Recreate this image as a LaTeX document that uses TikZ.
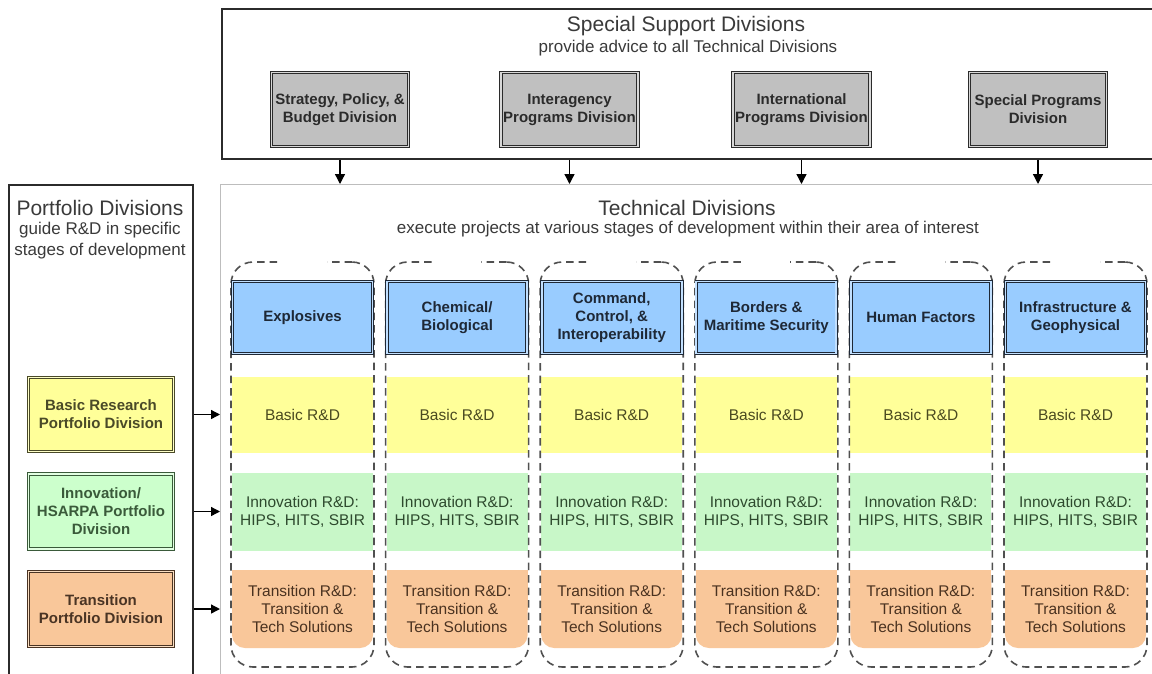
\documentclass[tikz,border=0pt]{standalone}
\usepackage{fontspec}
\setmainfont{Liberation Sans}
\usetikzlibrary{arrows.meta}
\definecolor{titlegray}{HTML}{3A3A3A}
\definecolor{boxgray}{HTML}{C0C0C0}
\definecolor{gapgray}{HTML}{D8D8D8}
\definecolor{dline}{HTML}{2B2B2B}
\definecolor{bluefill}{HTML}{99CCFF}
\definecolor{bluegap}{HTML}{C2E0FF}
\definecolor{blueline}{HTML}{1E2836}
\definecolor{yfill}{HTML}{FFFF99}
\definecolor{ygap}{HTML}{FFFFC8}
\definecolor{yline}{HTML}{4A4A28}
\definecolor{ytext}{HTML}{4A4A20}
\definecolor{gfill}{HTML}{CCFFCC}
\definecolor{gband}{HTML}{C8F7C8}
\definecolor{ggap}{HTML}{E2FFE2}
\definecolor{gline}{HTML}{3A5A3A}
\definecolor{gtext}{HTML}{2E4A2E}
\definecolor{ofill}{HTML}{F9C79A}
\definecolor{ogap}{HTML}{FCE0C4}
\definecolor{oline}{HTML}{4A3424}
\definecolor{otext}{HTML}{4A3220}
\definecolor{dashgray}{HTML}{505050}
\definecolor{techline}{HTML}{BDBDBD}
\tikzset{
  bigtitle/.style={inner sep=0, text=titlegray, font=\fontsize{21}{24}\selectfont},
  subtitle/.style={inner sep=0, text=titlegray, font=\fontsize{17}{21}\selectfont, align=center},
  unitbox/.style={inner sep=0, align=center, line width=0.9pt, double distance=1.8pt,
    font=\fontsize{15}{18}\selectfont\bfseries, minimum width=#1},
  graybox/.style={unitbox=137, draw=dline, double=gapgray, fill=boxgray, text=dline, minimum height=74},
  bluebox/.style={unitbox=140, draw=blueline, double=bluegap, fill=bluefill, text=blueline, minimum height=72},
  ybox/.style={unitbox=145, draw=yline, double=ygap, fill=yfill, text=yline, minimum height=74},
  gbox/.style={unitbox=145, draw=gline, double=ggap, fill=gfill, text=gline, minimum height=75},
  obox/.style={unitbox=145, draw=oline, double=ogap, fill=ofill, text=oline, minimum height=75},
  band/.style={inner sep=0, align=center, minimum width=141, font=\fontsize{15.5}{17.8}\selectfont},
  colframe/.style={draw=dashgray, line width=1.6pt, dash pattern=on 7.5pt off 5pt,
    rounded corners=22pt, minimum width=143, minimum height=405, inner sep=0},
  arr/.style={draw=black, line width=1.3pt, -{Triangle[length=10pt,width=10pt]}},
}
\begin{document}
\begin{tikzpicture}[x=1pt,y=-1pt]
\useasboundingbox (0,0) rectangle (1152,673);
\fill[white] (0,0) rectangle (1152,673);

% containers
\node[draw=dline, line width=1.6pt, minimum width=945, minimum height=150, inner sep=0, anchor=north west] (ssd) at (221,8) {};
\node[draw=techline, line width=1.2pt, minimum width=945, minimum height=520, inner sep=0, anchor=north west] (tech) at (220,184) {};
\node[draw=dline, line width=1.6pt, minimum width=184, minimum height=520, inner sep=0, anchor=north west] (port) at (8,184) {};

% titles
\node[bigtitle] (ssdtitle) at (686,26) {Special Support Divisions};
\node[subtitle] (ssdsub) at (688,48) {provide advice to all Technical Divisions};
\node[bigtitle] (techtitle) at (687,208) {Technical Divisions};
\node[subtitle] (techsub) at (688,229) {execute projects at various stages of development within their area of interest};
\node[bigtitle] (porttitle) at (100,208) {Portfolio Divisions};
\node[subtitle, font=\fontsize{17}{21}\selectfont] (portsub) at (100,241) {guide R\&D in specific\\stages of development};

% special support divisions
\node[graybox] (g1) at (340,109.5) {Strategy, Policy, \&\\Budget Division};
\node[graybox] (g2) at (569.5,109.5) {Interagency\\Programs Division};
\node[graybox] (g3) at (801.5,109.5) {International\\Programs Division};
\node[graybox] (g4) at (1038,109.5) {Special Programs\\Division};
\foreach \g in {g1,g2,g3,g4}
  \draw[arr] (\g.south |- ssd.south) -- (\g.south |- tech.north);

% technical division columns
\foreach \i in {0,...,5}{
  \pgfmathsetmacro{\cx}{302.5+154.6*\i}
  \fill[ofill, rounded corners=13pt] (\cx-70.5,570) rectangle (\cx+70.5,648);
  \fill[ofill] (\cx-70.5,570) rectangle (\cx+70.5,610);
  \node[band, fill=yfill, text=ytext, minimum height=76] (by\i) at (\cx,415) {Basic R\&D};
  \node[band, fill=gband, text=gtext, minimum height=78] (bg\i) at (\cx,512) {Innovation R\&D:\\HIPS, HITS, SBIR};
  \node[band, text=otext, minimum height=78] (bo\i) at (\cx,609) {Transition R\&D:\\Transition \&\\Tech Solutions};
  \node[colframe] (col\i) at (\cx,464.5) {};
  \fill[white] (\cx-24,258) rectangle (\cx+24,266);
}
\node[bluebox] (t0) at (302.5,317.5) {Explosives};
\node[bluebox] (t1) at (457.1,317.5) {Chemical/\\Biological};
\node[bluebox] (t2) at (611.7,317.5) {Command,\\Control, \&\\Interoperability};
\node[bluebox] (t3) at (766.3,317.5) {Borders \&\\Maritime Security};
\node[bluebox] (t4) at (920.9,317.5) {Human Factors};
\node[bluebox] (t5) at (1075.5,317.5) {Infrastructure \&\\Geophysical};

% portfolio divisions
\node[ybox] (pb) at (101,414.5) {Basic Research\\Portfolio Division};
\node[gbox] (pi) at (101,511.5) {Innovation/\\HSARPA Portfolio\\Division};
\node[obox] (pt) at (101,609) {Transition\\Portfolio Division};
\foreach \p in {pb,pi,pt}
  \draw[arr, -{Triangle[length=9pt,width=9pt]}] (\p.east -| port.east) -- (\p.east -| tech.west);
\end{tikzpicture}
\end{document}
